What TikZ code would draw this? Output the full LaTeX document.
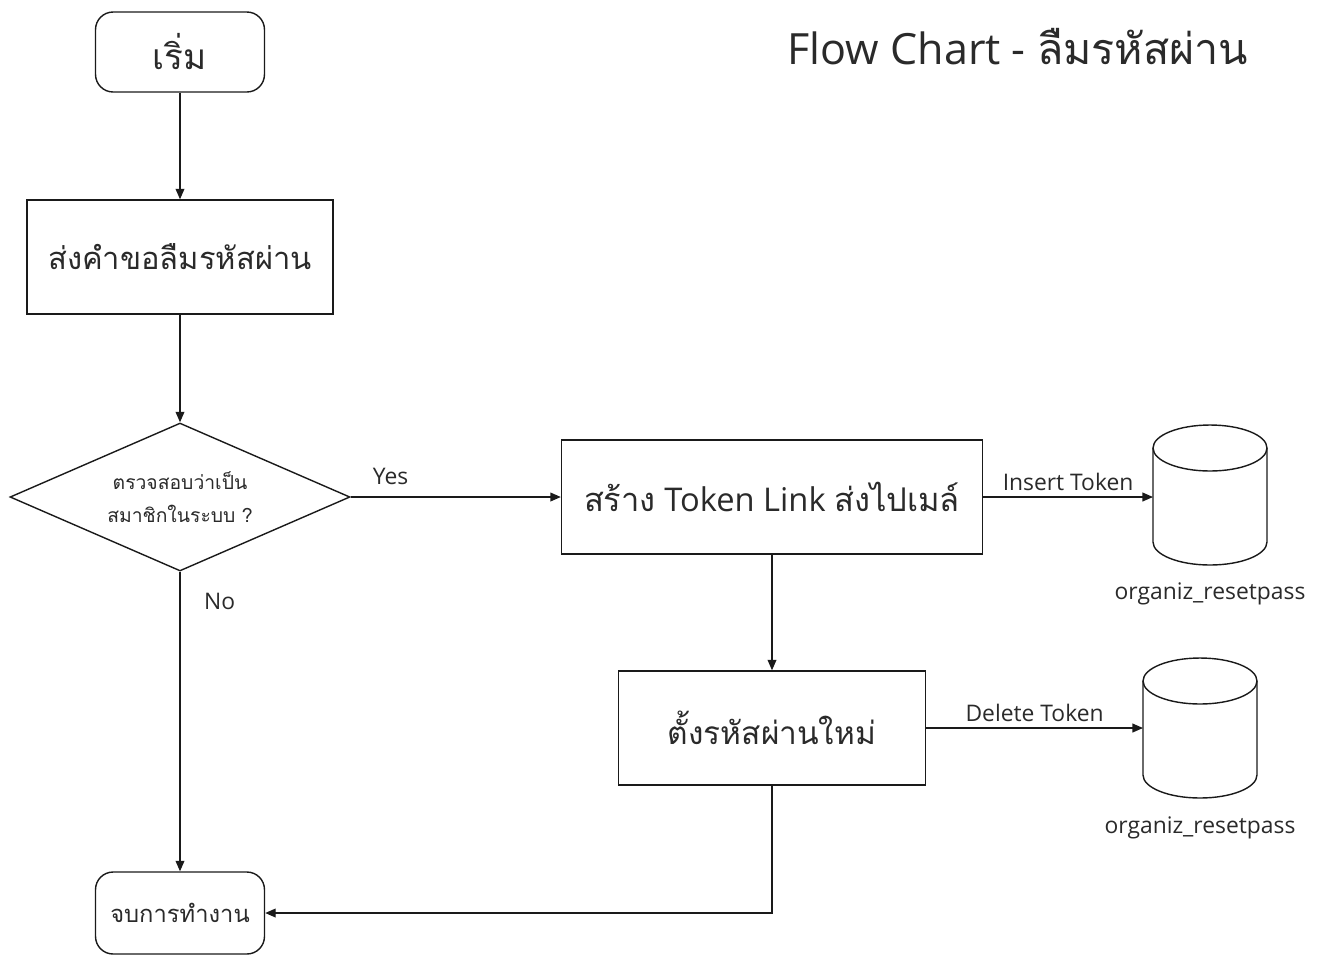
\documentclass[tikz,border=0pt]{standalone}
\usepackage{fontspec}
\setmainfont{Open Sans}
\newfontfamily\thaifont[Script=Thai]{Loma}
\usepackage{xcolor}
\usepackage{tikz}
\usetikzlibrary{shapes.geometric, arrows.meta, positioning}
\definecolor{inkline}{HTML}{1A1A1A}
\definecolor{inktext}{HTML}{2A2A2A}
\tikzset{
  termbox/.style={draw=inkline, line width=0.8pt, rounded corners=10pt, minimum width=3.38cm, minimum height=1.6cm, text=inktext},
  procbox/.style={draw=inkline, line width=0.8pt, minimum height=2.28cm, text=inktext},
  decbox/.style={draw=inkline, line width=0.8pt, diamond, aspect=2.3, minimum width=6.8cm, minimum height=2.96cm, inner sep=0pt, text=inktext},
  dbline/.style={draw=inkline, line width=0.8pt},
  flow/.style={draw=inkline, line width=0.8pt, -{Triangle[length=6pt, width=5pt]}},
  lbl/.style={text=inktext, font=\fontsize{13}{15}\selectfont}
}
\begin{document}
\begin{tikzpicture}[x=0.02cm, y=-0.02cm]
  \useasboundingbox (0,0) rectangle (1317,954);
  % Title
  \node[text=inktext, font=\fontsize{24.5}{29}\selectfont] (title) at (1018,47) {Flow Chart - {\thaifont ลืมรหัสผ่าน}};
  % Main column
  \node[termbox, font=\thaifont\fontsize{20}{24}\selectfont] (start) at (180,52) {เริ่ม};
  \node[procbox, minimum width=6.12cm, font=\thaifont\fontsize{17.6}{21}\selectfont] (req) at (180,257) {ส่งคำขอลืมรหัสผ่าน};
  \node[decbox, align=center, font=\thaifont\fontsize{11}{19}\selectfont] (check) at (180,497) {ตรวจสอบว่าเป็น\\สมาชิกในระบบ ?};
  \node[termbox, minimum height=1.64cm, font=\thaifont\fontsize{13.5}{17}\selectfont] (stop) at (180,913) {จบการทำงาน};
  % Right column
  \node[procbox, minimum width=8.42cm, font=\fontsize{18.6}{23}\selectfont] (token) at (772,497) {{\thaifont สร้าง} Token Link {\thaifont ส่งไปเมล์}};
  \node[procbox, minimum width=6.14cm, font=\thaifont\fontsize{18}{22}\selectfont] (newpass) at (772,728) {ตั้งรหัสผ่านใหม่};
  % Database drum 1
  \draw[dbline] (1153,448) -- (1153,542) arc[start angle=180, end angle=360, x radius=1.14cm, y radius=0.46cm] -- (1267,448);
  \draw[dbline] (1210,448) ellipse[x radius=1.14cm, y radius=0.46cm];
  \coordinate (db1) at (1153,497);
  \node[lbl] (db1name) at (1210,594) {organiz\_resetpass};
  % Database drum 2
  \draw[dbline] (1143,681) -- (1143,775) arc[start angle=180, end angle=360, x radius=1.14cm, y radius=0.46cm] -- (1257,681);
  \draw[dbline] (1200,681) ellipse[x radius=1.14cm, y radius=0.46cm];
  \coordinate (db2) at (1143,728);
  \node[lbl] (db2name) at (1200,828) {organiz\_resetpass};
  % Connectors
  \draw[flow] (start) -- (req);
  \draw[flow] (req) -- (check);
  \draw[flow] (check.east) -- node[lbl, pos=0.19, above=3pt] {Yes} (token.west);
  \draw[flow] (check.south) -- node[lbl, pos=0.1, right=10pt] {No} (stop.north);
  \draw[flow] (token.east) -- node[lbl, above] {Insert Token} (db1);
  \draw[flow] (token) -- (newpass);
  \draw[flow] (newpass.east) -- node[lbl, above] {Delete Token} (db2);
  \draw[flow] (newpass.south) |- (stop.east);
\end{tikzpicture}
\end{document}
